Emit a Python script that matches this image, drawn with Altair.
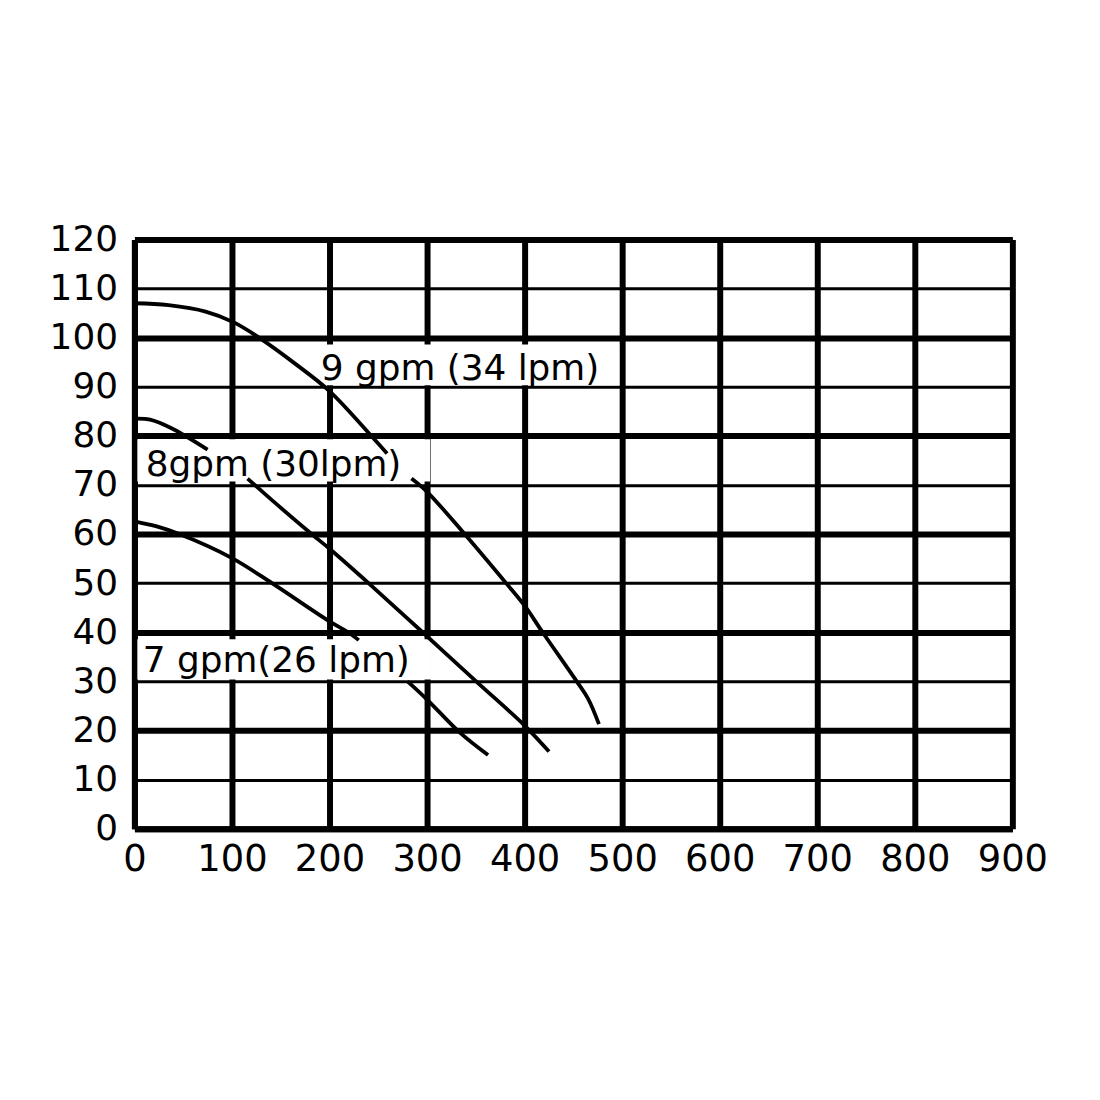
import altair as alt
import pandas as pd

# ---- axis ticks ----
x_ticks = [0, 100, 200, 300, 400, 500, 600, 700, 800, 900]
y_ticks = [0, 10, 20, 30, 40, 50, 60, 70, 80, 90, 100, 110, 120]

# ---- curves (flow vs pressure), split where the labels interrupt them ----
c9a_x = [0, 35, 73, 102, 130, 166, 200, 245, 259]
c9a_y = [107, 106.6, 105.3, 103.1, 99.7, 94.5, 89.1, 79.5, 76.4]
c9b_x = [284, 300, 338.5, 381, 400, 418.4, 453.4, 465, 476.2]
c9b_y = [71.3, 68.6, 60, 50, 45.4, 40, 30, 26.5, 21.3]

c8a_x = [0, 16, 37.5, 75]
c8a_y = [83.5, 83.3, 81.6, 77.2]
c8b_x = [116, 141, 181.6, 200, 240, 296, 352, 400, 425]
c8b_y = [71.3, 66.9, 60, 57, 50, 39.9, 29.7, 21.0, 15.7]

c7a_x = [0, 22, 46, 100, 141, 200, 219, 230]
c7a_y = [62.6, 61.6, 60, 55.1, 50, 42.2, 40, 38.4]
c7b_x = [280, 300, 334, 362.5]
c7b_y = [30, 26.3, 19.5, 15]

# ---- labels ----
label_text = ["9 gpm (34 lpm)", "8gpm (30lpm)", "7 gpm(26 lpm)"]
label_x = [191, 11.5, 8.5]
label_y = [91.4, 71.9, 32.0]
box_x0 = [188, 3, 3]
box_x1 = [497, 303, 304]
box_y0 = [90.3, 70.7, 30.4]
box_y1 = [98.6, 79.3, 38.6]

rows = []
for seg, xs, ys in [("9a", c9a_x, c9a_y), ("9b", c9b_x, c9b_y),
                    ("8a", c8a_x, c8a_y), ("8b", c8b_x, c8b_y),
                    ("7a", c7a_x, c7a_y), ("7b", c7b_x, c7b_y)]:
    for i, (x, y) in enumerate(zip(xs, ys)):
        rows.append({"seg": seg, "order": i, "flow": x, "pressure": y})
curves = pd.DataFrame(rows)

labels = pd.DataFrame({
    "text": label_text, "x": label_x, "y": label_y,
    "x0": box_x0, "x1": box_x1, "y0": box_y0, "y1": box_y1,
})

FONT = "DejaVu Sans"

xscale = alt.Scale(domain=[0, 900], nice=False, zero=False)
yscale = alt.Scale(domain=[0, 120], nice=False, zero=False)

x_axis = alt.Axis(values=x_ticks, title=None, grid=True, gridColor="black",
                  gridWidth=6, gridOpacity=1, ticks=False, domainColor="black",
                  domainWidth=6, labelFont=FONT, labelFontSize=37, labelColor="black",
                  labelPadding=13, labelFlush=False, labelOverlap=False)
y_axis = alt.Axis(values=y_ticks, title=None, grid=True, gridColor="black",
                  gridWidth={"condition": {"test": "datum.value % 20 === 0", "value": 6}, "value": 3},
                  gridOpacity=1, ticks=False, domainColor="black", domainWidth=6,
                  labelFont=FONT, labelFontSize=36, labelColor="black",
                  labelPadding=17, labelFlush=False, labelOverlap=False)

boxes = alt.Chart(labels).mark_rect(fill="white", strokeWidth=0).encode(
    x=alt.X("x0:Q", scale=xscale, axis=x_axis), x2="x1:Q",
    y=alt.Y("y0:Q", scale=yscale, axis=y_axis), y2="y1:Q",
)

lines = alt.Chart(curves).mark_line(color="black", strokeWidth=3.8, interpolate="catmull-rom").encode(
    x=alt.X("flow:Q", scale=xscale),
    y=alt.Y("pressure:Q", scale=yscale),
    detail="seg:N",
    order="order:Q",
)

texts = alt.Chart(labels).mark_text(font=FONT, fontSize=36, color="black",
                                    align="left", baseline="alphabetic").encode(
    x=alt.X("x:Q", scale=xscale), y=alt.Y("y:Q", scale=yscale), text="text:N",
)

chart = alt.layer(boxes, lines, texts).properties(
    width=882, height=592,
    autosize=alt.AutoSizeParams(type="none"),
    padding={"left": 127, "top": 230, "right": 80, "bottom": 250},
    background="white",
).configure_view(strokeWidth=0)

chart.save("out.html", embed_options={"renderer": "svg", "actions": False})
